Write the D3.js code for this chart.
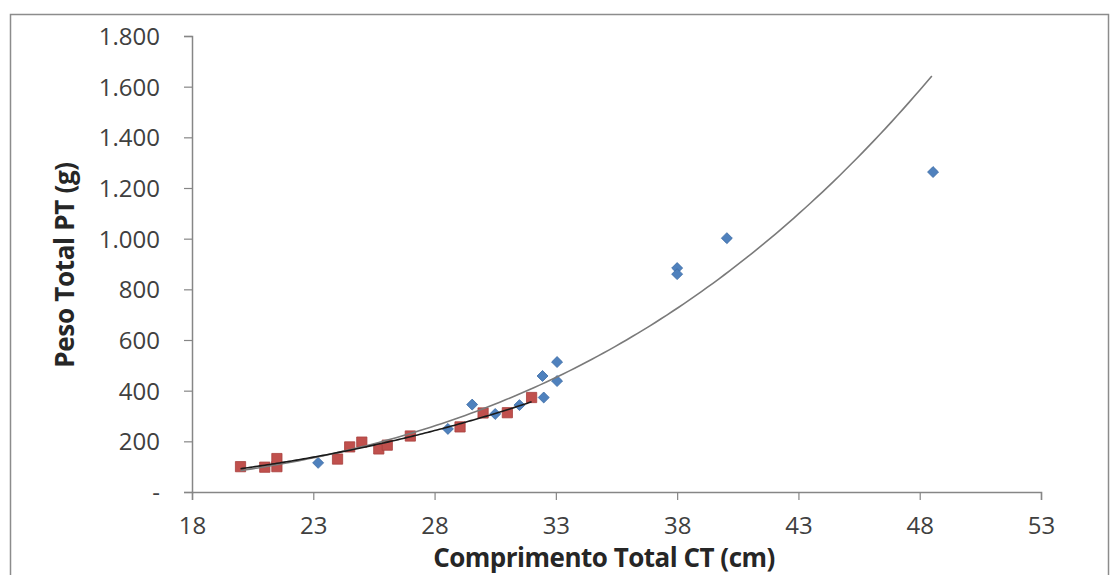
<!DOCTYPE html>
<html>
<head>
<meta charset="utf-8">
<script src="https://cdn.jsdelivr.net/npm/d3@7"></script>
<style>
  html, body { margin: 0; padding: 0; background: #fff; }
  svg { display: block; }
  text { font-family: "Open Sans", "DejaVu Sans", sans-serif; }
</style>
</head>
<body>
<svg id="chart" width="1113" height="575"></svg>
<script>
// ---- data ----
const blueX = [23.2, 28.55, 29.55, 30.5, 31.5, 32.45, 32.5, 33.05, 33.05, 38.0, 38.0, 40.05, 48.55];
const blueY = [115, 249, 345, 308, 343, 458, 373, 513, 438, 884, 860, 1002, 1263];
const redX = [20.0, 21.0, 21.5, 21.5, 24.0, 24.5, 25.0, 25.7, 26.05, 27.0, 29.05, 30.0, 31.0, 32.0];
const redY = [100, 98, 100, 132, 130, 178, 197, 170, 185, 221, 257, 312, 313, 373];
// power trendlines y = a * x^b  [a, b, xStart, xEnd]
const blueTrend = [0.0037, 3.35, 20.0, 48.5];
const redTrend = [0.01647, 2.88, 20.0, 32.0];
const xTicks = [18, 23, 28, 33, 38, 43, 48, 53];
const yTicks = [0, 200, 400, 600, 800, 1000, 1200, 1400, 1600, 1800];
const yTickLabels = ["-", "200", "400", "600", "800", "1.000", "1.200", "1.400", "1.600", "1.800"];
const xTitle = "Comprimento Total CT (cm)";
const yTitle = "Peso Total PT (g)";

const svg = d3.select("#chart");
const x = d3.scaleLinear().domain([18, 53]).range([192, 1041]);
const y = d3.scaleLinear().domain([0, 1800]).range([492, 36]);

// outer chart border
svg.append("rect").attr("x", 10.5).attr("y", 14.5).attr("width", 1098).attr("height", 600)
  .attr("fill", "none").attr("stroke", "#8c8c8c").attr("stroke-width", 1.5);

const axisColor = "#868686";
const labelColor = "#404040";

// y axis
const yAxis = svg.append("g").attr("transform", `translate(${x(18)},0)`)
  .call(d3.axisLeft(y).tickValues(yTicks).tickSize(8).tickPadding(24)
    .tickFormat((d, i) => yTickLabels[i]));
// x axis
const xAxis = svg.append("g").attr("transform", `translate(0,${y(0)})`)
  .call(d3.axisBottom(x).tickValues(xTicks).tickSize(8).tickPadding(17));

[yAxis, xAxis].forEach(g => {
  g.select(".domain").attr("stroke", axisColor).attr("stroke-width", 1.5);
  g.selectAll(".tick line").attr("stroke", axisColor).attr("stroke-width", 1.2);
  g.selectAll(".tick text").attr("fill", labelColor).style("font-size", "24px")
    .style("font-family", "'Open Sans', sans-serif");
});
yAxis.selectAll(".tick text").attr("dy", "0.35em");

// axis titles
svg.append("text").attr("x", 604).attr("y", 567).attr("text-anchor", "middle")
  .attr("fill", "#262626").style("font-size", "26px").style("font-weight", "bold")
  .style("letter-spacing", "-0.5px")
  .text(xTitle);
svg.append("text").attr("transform", "translate(74,265) rotate(-90)").attr("text-anchor", "middle")
  .attr("fill", "#262626").style("font-size", "26px").style("font-weight", "bold")
  .style("letter-spacing", "-0.3px")
  .text(yTitle);

// markers
svg.append("g").selectAll("path").data(blueX.map((d, i) => [d, blueY[i]])).join("path")
  .attr("transform", d => `translate(${x(d[0])},${y(d[1])}) rotate(45)`)
  .attr("d", d3.symbol().type(d3.symbolSquare).size(60))
  .attr("fill", "#4F81BD").attr("stroke", "#3f6ea6").attr("stroke-width", 0.8);

svg.append("g").selectAll("path").data(redX.map((d, i) => [d, redY[i]])).join("path")
  .attr("transform", d => `translate(${x(d[0])},${y(d[1])})`)
  .attr("d", d3.symbol().type(d3.symbolSquare).size(105))
  .attr("fill", "#C0504D").attr("stroke", "#a8403d").attr("stroke-width", 0.8);

// trendlines
function trend(t) {
  const [a, b, x0, x1] = t;
  const n = 120;
  return d3.range(n + 1).map(i => {
    const xv = x0 + (x1 - x0) * i / n;
    return [xv, a * Math.pow(xv, b)];
  });
}
const line = d3.line().x(d => x(d[0])).y(d => y(d[1])).curve(d3.curveLinear);
svg.append("path").attr("d", line(trend(blueTrend))).attr("fill", "none")
  .attr("stroke", "#7a7a7a").attr("stroke-width", 1.6);
svg.append("path").attr("d", line(trend(redTrend))).attr("fill", "none")
  .attr("stroke", "#1a1a1a").attr("stroke-width", 1.6);
</script>
</body>
</html>
